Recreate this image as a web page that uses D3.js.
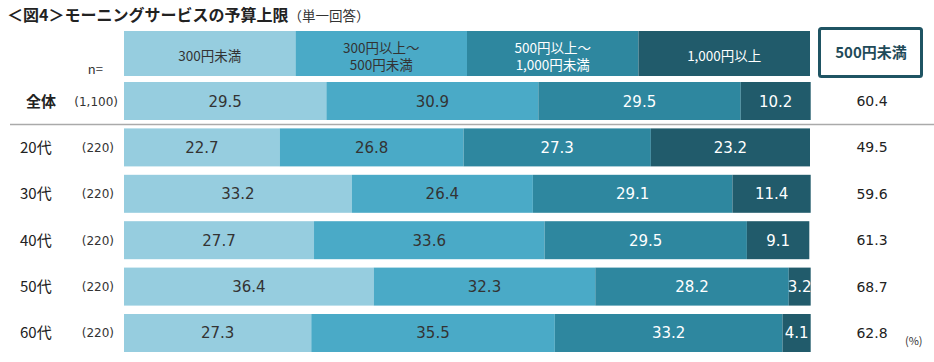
<!DOCTYPE html>
<html lang="ja">
<head>
<meta charset="UTF-8">
<title>モーニングサービスの予算上限</title>
<script src="https://d3js.org/d3.v7.min.js"></script>
<style>
    body { margin: 0; background: #fff; }
    svg { font-family: "Noto Sans CJK JP", "Noto Sans", sans-serif; }
    .num { font-family: "DejaVu Sans", Verdana, sans-serif; }
</style>
</head>
<body>
<div id="chart"></div>
<script>
// data
var groups = ["全体", "20代", "30代", "40代", "50代", "60代"];
var sampleSizes = ["(1,100)", "(220)", "(220)", "(220)", "(220)", "(220)"];
var seriesNames = [["300円未満"], ["300円以上～", "500円未満"], ["500円以上～", "1,000円未満"], ["1,000円以上"]];
var under300 = [29.5, 22.7, 33.2, 27.7, 36.4, 27.3];
var from300to500 = [30.9, 26.8, 26.4, 33.6, 32.3, 35.5];
var from500to1000 = [29.5, 27.3, 29.1, 29.5, 28.2, 33.2];
var over1000 = [10.2, 23.2, 11.4, 9.1, 3.2, 4.1];
var under500 = [60.4, 49.5, 59.6, 61.3, 68.7, 62.8];

var colors = ["#96cddf", "#4aaac7", "#2e879f", "#215b6b"];
var textColors = ["#333", "#333", "#fff", "#fff"];
var headColors = ["#333", "#333", "#fff", "#fff"];

var width = 934, height = 362;
var svg = d3.select("#chart").append("svg")
    .attr("width", width)
    .attr("height", height);

var x = d3.scaleLinear().domain([0, 100]).range([124, 810]);
var y = d3.scaleBand().domain(groups).range([82, 352]).paddingInner(0.181);

// title
var title = svg.append("text").attr("x", 7).attr("y", 21).attr("fill", "#222");
title.append("tspan").attr("font-size", 16).attr("font-weight", "bold").text("＜図4＞モーニングサービスの予算上限");
title.append("tspan").attr("font-size", 13.5).attr("fill", "#333").text("（単一回答）");

// header (legend) row
var seriesIdx = d3.range(seriesNames.length);
var hx = d3.scaleBand().domain(seriesIdx).range([124, 810]);
svg.selectAll(".head").data(seriesIdx).enter().append("rect")
    .attr("x", d => hx(d))
    .attr("y", 31)
    .attr("width", hx.bandwidth())
    .attr("height", 45)
    .attr("fill", d => colors[d]);

seriesIdx.forEach(function(i) {
    var lines = seriesNames[i];
    var y0 = lines.length === 1 ? 61 : 52.5;
    lines.forEach(function(l, k) {
        svg.append("text")
            .attr("x", hx(i) + hx.bandwidth() / 2)
            .attr("y", y0 + k * 17)
            .attr("text-anchor", "middle")
            .attr("font-size", 13.5)
            .attr("fill", headColors[i])
            .text(l);
    });
});

svg.append("text").attr("x", 103).attr("y", 74).attr("text-anchor", "end")
    .attr("font-size", 13).attr("fill", "#333").text("n=");

// right box
svg.append("rect")
    .attr("x", 819.5).attr("y", 28.5)
    .attr("width", 102).attr("height", 48)
    .attr("rx", 2)
    .attr("fill", "#fff")
    .attr("stroke", "#1f5463")
    .attr("stroke-width", 3);
svg.append("text").attr("x", 871).attr("y", 58).attr("text-anchor", "middle")
    .attr("font-size", 15).attr("font-weight", "bold").attr("fill", "#1f4b59").text("500円未満");

// stacked bars
var series = [under300, from300to500, from500to1000, over1000];
groups.forEach(function(g, gi) {
    var acc = 0;
    series.forEach(function(s, si) {
        var v = s[gi];
        svg.append("rect")
            .attr("x", x(acc))
            .attr("y", y(g))
            .attr("width", x(acc + v) - x(acc))
            .attr("height", y.bandwidth())
            .attr("fill", colors[si]);
        svg.append("text")
            .attr("class", "num")
            .attr("x", (x(acc) + x(acc + v)) / 2)
            .attr("y", y(g) + y.bandwidth() / 2 + 5.5)
            .attr("text-anchor", "middle")
            .attr("font-size", 15)
            .attr("fill", textColors[si])
            .text(v.toFixed(1));
        acc += v;
    });
    var cy = y(g) + y.bandwidth() / 2;
    svg.append("text")
        .attr("x", gi === 0 ? 26 : 20)
        .attr("y", cy + 5.5)
        .attr("font-size", 15)
        .attr("font-weight", gi === 0 ? "bold" : "normal")
        .attr("fill", "#222")
        .text(g);
    svg.append("text")
        .attr("class", "num")
        .attr("x", gi === 0 ? 118 : 114)
        .attr("y", cy + 4.5)
        .attr("text-anchor", "end")
        .attr("font-size", 12)
        .attr("fill", "#333")
        .text(sampleSizes[gi]);
    svg.append("text")
        .attr("class", "num")
        .attr("x", 872)
        .attr("y", cy + 5)
        .attr("text-anchor", "middle")
        .attr("font-size", 14)
        .attr("fill", "#222")
        .text(under500[gi].toFixed(1));
});

// divider under 全体
svg.append("line")
    .attr("x1", 10).attr("x2", 934)
    .attr("y1", 124.5).attr("y2", 124.5)
    .attr("stroke", "#aaa").attr("stroke-width", 1.5);

svg.append("text").attr("x", 905).attr("y", 345)
    .attr("font-size", 11).attr("fill", "#333").text("(%)");
</script>
</body>
</html>
